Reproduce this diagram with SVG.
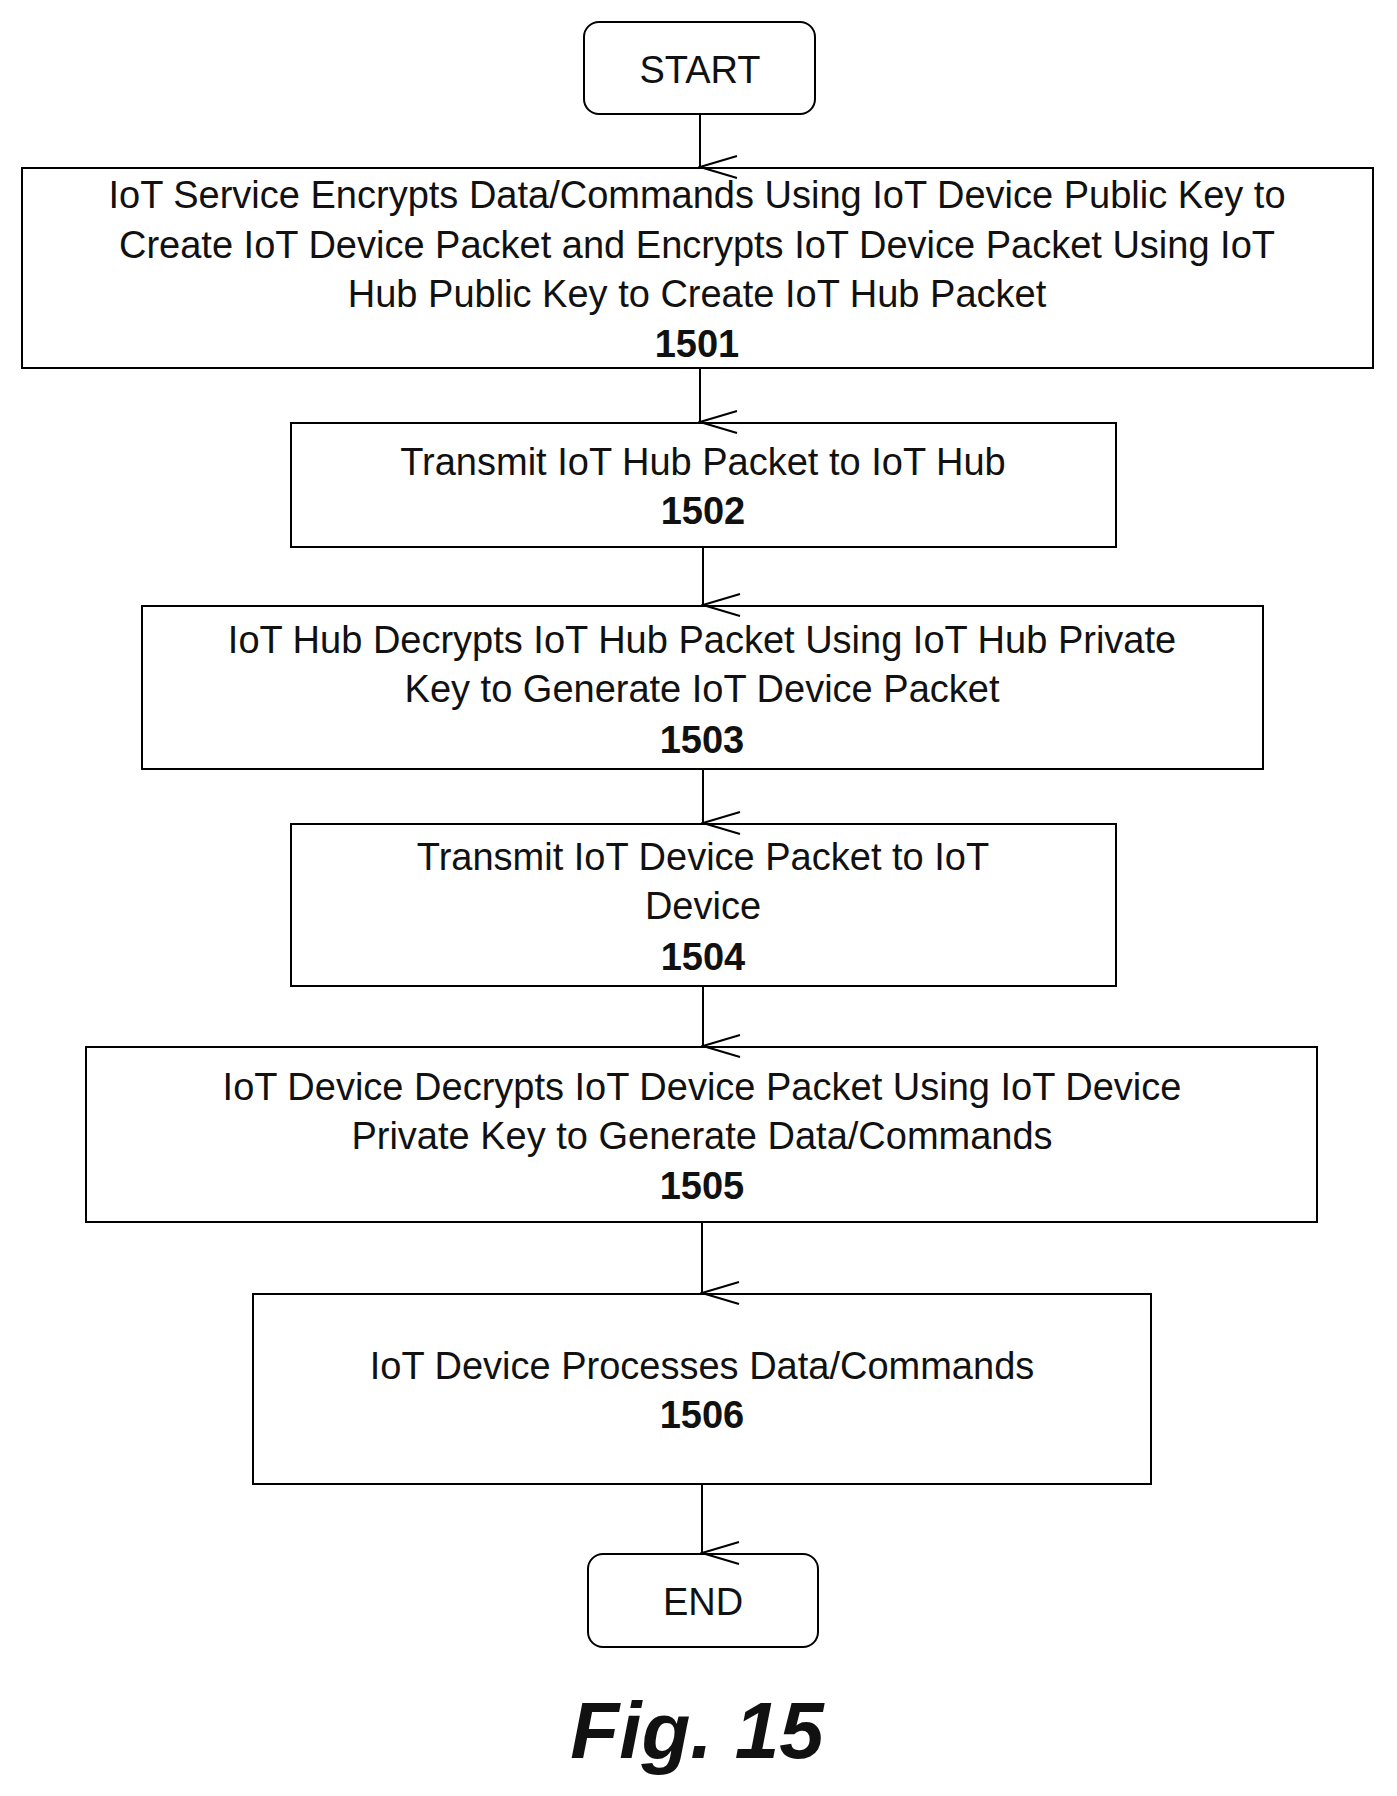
<svg xmlns="http://www.w3.org/2000/svg" width="1397" height="1796" viewBox="0 0 1397 1796">
<style>
.b{fill:#fff;stroke:#000;stroke-width:2}
.t{font-family:"Liberation Sans",Arial,sans-serif;font-size:38px;text-anchor:middle;fill:#111}
.n{font-weight:bold}
.c{stroke:#000;stroke-width:2;fill:none}
</style>
<defs><marker id="a" markerWidth="24" markerHeight="40" refX="12" refY="38" orient="auto-start-reverse" markerUnits="userSpaceOnUse" viewBox="0 0 24 40"><path d="M1 1 L12 38 L23 1" fill="none" stroke="#000" stroke-width="2"/></marker></defs>
<rect width="1397" height="1796" fill="#fff"/>
<g id="start"><rect class="b" x="584" y="22" width="231" height="92" rx="15"/><text class="t" x="700" y="83">START</text></g>
<g id="n1501"><rect class="b" x="22" y="168" width="1351" height="200"/>
<text class="t" x="697" y="208">IoT Service Encrypts Data/Commands Using IoT Device Public Key to</text>
<text class="t" x="697" y="258">Create IoT Device Packet and Encrypts IoT Device Packet Using IoT</text>
<text class="t" x="697" y="307">Hub Public Key to Create IoT Hub Packet</text>
<text class="t n" x="697" y="357">1501</text></g>
<g id="n1502"><rect class="b" x="291" y="423" width="825" height="124"/>
<text class="t" x="703" y="475">Transmit IoT Hub Packet to IoT Hub</text>
<text class="t n" x="703" y="524">1502</text></g>
<g id="n1503"><rect class="b" x="142" y="606" width="1121" height="163"/>
<text class="t" x="702" y="653">IoT Hub Decrypts IoT Hub Packet Using IoT Hub Private</text>
<text class="t" x="702" y="702">Key to Generate IoT Device Packet</text>
<text class="t n" x="702" y="753">1503</text></g>
<g id="n1504"><rect class="b" x="291" y="824" width="825" height="162"/>
<text class="t" x="703" y="870">Transmit IoT Device Packet to IoT</text>
<text class="t" x="703" y="919">Device</text>
<text class="t n" x="703" y="970">1504</text></g>
<g id="n1505"><rect class="b" x="86" y="1047" width="1231" height="175"/>
<text class="t" x="702" y="1100">IoT Device Decrypts IoT Device Packet Using IoT Device</text>
<text class="t" x="702" y="1149">Private Key to Generate Data/Commands</text>
<text class="t n" x="702" y="1199">1505</text></g>
<g id="n1506"><rect class="b" x="253" y="1294" width="898" height="190"/>
<text class="t" x="702" y="1379">IoT Device Processes Data/Commands</text>
<text class="t n" x="702" y="1428">1506</text></g>
<g id="end"><rect class="b" x="588" y="1554" width="230" height="93" rx="15"/><text class="t" x="703" y="1615">END</text></g>
<text class="t n" x="697" y="1758" style="font-size:80px;font-style:italic">Fig. 15</text>
<g id="connectors">
<line class="c" x1="700" y1="114" x2="700" y2="167" marker-end="url(#a)"/>
<line class="c" x1="700" y1="368" x2="700" y2="422" marker-end="url(#a)"/>
<line class="c" x1="703" y1="547" x2="703" y2="605" marker-end="url(#a)"/>
<line class="c" x1="703" y1="769" x2="703" y2="823" marker-end="url(#a)"/>
<line class="c" x1="703" y1="986" x2="703" y2="1046" marker-end="url(#a)"/>
<line class="c" x1="702" y1="1222" x2="702" y2="1293" marker-end="url(#a)"/>
<line class="c" x1="702" y1="1484" x2="702" y2="1553" marker-end="url(#a)"/>
</g>
</svg>
